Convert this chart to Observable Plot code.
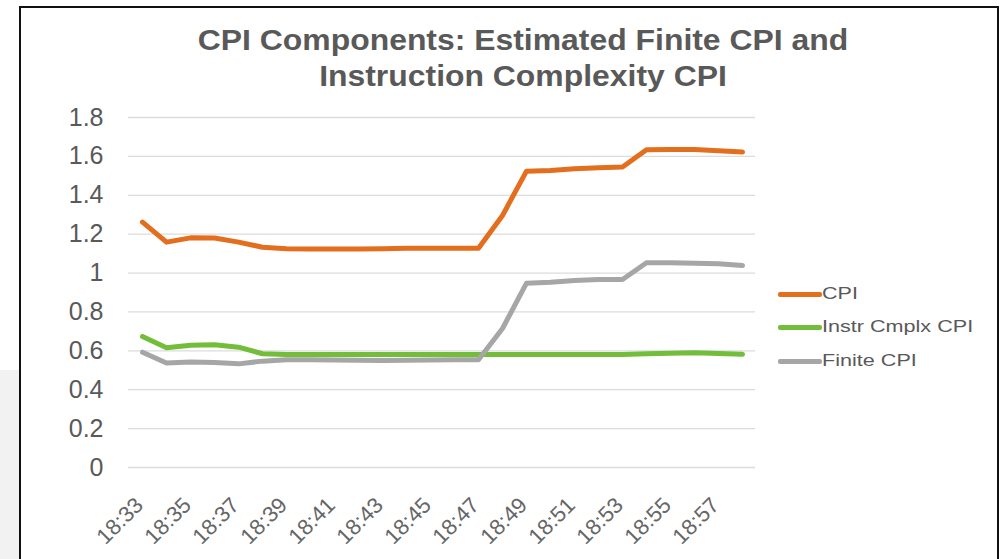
<!DOCTYPE html>
<html>
<head>
<meta charset="utf-8">
<script src="https://cdn.jsdelivr.net/npm/d3@7"></script>
<script src="https://cdn.jsdelivr.net/npm/@observablehq/plot@0.6"></script>
<style>
  html, body { margin: 0; padding: 0; background: #fff; }
  #wrap { position: relative; width: 1002px; height: 559px; overflow: hidden; font-family: "Liberation Sans", Arial, sans-serif; }
  #side { position: absolute; left: 0; top: 370px; width: 19px; height: 189px; background: #f2f2f2; }
  #frame { position: absolute; left: 19px; top: 6px; width: 980px; height: 600px; border: 2px solid #111; box-sizing: border-box; }
  #title { position: absolute; left: 0; width: 1046px; top: 22px; text-align: center; color: #595959; font-weight: bold; font-size: 29px; line-height: 36px; transform: scaleX(1.1); transform-origin: 523px 0; }
  #chart { position: absolute; left: 0; top: 0; }
  .leg { position: absolute; left: 778px; height: 20px; color: #595959; font-size: 17px; line-height: 20px; }
  .leg span.sw { position: absolute; left: 0; top: 8px; width: 44px; height: 4.5px; border-radius: 2px; }
  .leg span.tx { position: absolute; left: 44px; top: 0; white-space: nowrap; transform: scaleX(1.27); transform-origin: 0 0; }
</style>
</head>
<body>
<div id="wrap">
  <div id="side"></div>
  <div id="chart"></div>
  <div id="frame"></div>
  <div id="title">CPI Components: Estimated Finite CPI and<br>Instruction Complexity CPI</div>
  <div id="legend"></div>
</div>
<script>
const times = ["18:33","18:34","18:35","18:36","18:37","18:38","18:39","18:40","18:41","18:42","18:43","18:44","18:45","18:46","18:47","18:48","18:49","18:50","18:51","18:52","18:53","18:54","18:55","18:56","18:57","18:58"];
const xTickLabels = ["18:33","18:35","18:37","18:39","18:41","18:43","18:45","18:47","18:49","18:51","18:53","18:55","18:57"];
const yTicks = [0, 0.2, 0.4, 0.6, 0.8, 1, 1.2, 1.4, 1.6, 1.8];

const cpi    = [1.262,1.159,1.181,1.180,1.159,1.133,1.125,1.124,1.124,1.124,1.125,1.127,1.128,1.128,1.128,1.296,1.524,1.528,1.536,1.541,1.545,1.634,1.635,1.635,1.629,1.622];
const instr  = [0.674,0.616,0.629,0.631,0.619,0.585,0.581,0.581,0.581,0.581,0.581,0.581,0.581,0.581,0.581,0.581,0.581,0.581,0.581,0.581,0.581,0.585,0.588,0.590,0.586,0.582];
const finite = [0.593,0.537,0.542,0.540,0.533,0.547,0.554,0.554,0.553,0.551,0.550,0.552,0.553,0.554,0.554,0.715,0.948,0.953,0.962,0.967,0.967,1.053,1.053,1.050,1.048,1.039];

const seriesNames = ["CPI", "Instr Cmplx CPI", "Finite CPI"];
const seriesColors = ["#E36F1E", "#72BD3A", "#A6A6A6"];
const seriesValues = [cpi, instr, finite];

const rows = seriesNames.flatMap((name, s) =>
  times.map((t, i) => ({series: name, time: t, value: seriesValues[s][i]}))
);

const chart = Plot.plot({
  width: 1002,
  height: 559,
  marginLeft: 128,
  marginRight: 247,
  marginTop: 117,
  marginBottom: 92,
  style: {fontFamily: "Liberation Sans, Arial, sans-serif", background: "transparent"},
  x: {type: "point", domain: times, padding: 0.5},
  y: {domain: [0, 1.8]},
  color: {domain: seriesNames, range: seriesColors},
  marks: [
    Plot.ruleY(yTicks, {stroke: "#dcdcdc", strokeWidth: 1.3}),
    Plot.axisY({ticks: yTicks, tickSize: 0, tickPadding: 25, fontSize: 25, fill: "#595959",
                tickFormat: d => String(+d.toFixed(1)), label: null}),
    Plot.axisX({ticks: xTickLabels, tickSize: 0, tickPadding: 34, tickRotate: -45, fontSize: 22,
                fill: "#666666", label: null, dx: -3}),
    Plot.line(rows, {x: "time", y: "value", z: "series", stroke: "series",
                     strokeWidth: 5, strokeLinejoin: "round", strokeLinecap: "round"})
  ]
});
document.getElementById("chart").appendChild(chart);

const legendTops = [284, 317, 351];
const legend = document.getElementById("legend");
seriesNames.forEach((name, i) => {
  const d = document.createElement("div");
  d.className = "leg";
  d.style.top = legendTops[i] + "px";
  d.innerHTML = `<span class="sw" style="background:${seriesColors[i]}"></span><span class="tx">${name}</span>`;
  legend.appendChild(d);
});
</script>
</body>
</html>
